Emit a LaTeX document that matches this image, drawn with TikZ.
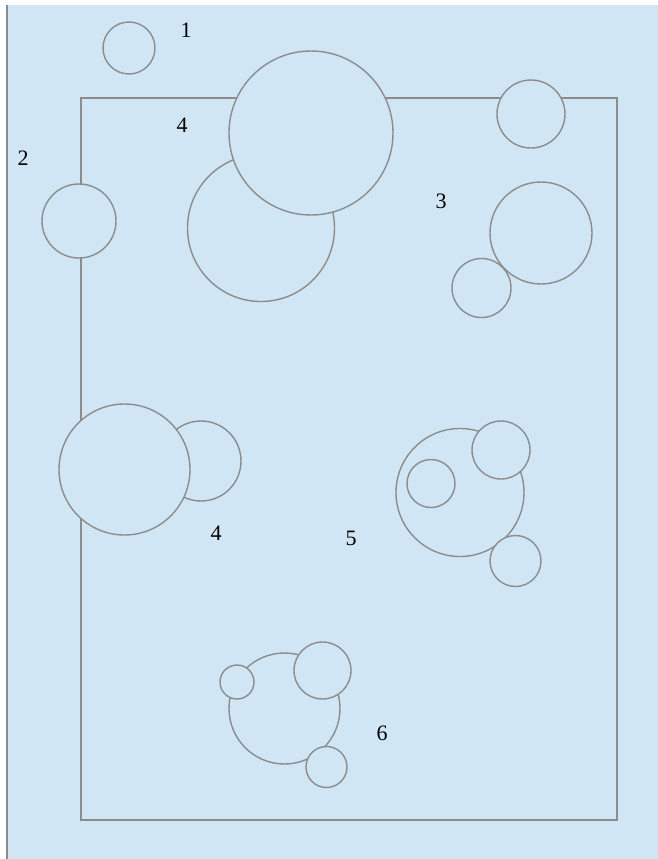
\documentclass[tikz,border=0pt]{standalone}
\usepackage{fontspec}
\setmainfont{Liberation Serif}
\definecolor{bgblue}{RGB}{209,230,244}
\definecolor{edge}{RGB}{140,140,140}
\tikzset{
  circ/.style={circle, draw=edge, fill=bgblue, line width=1.4pt, inner sep=0pt, minimum size=#1},
  lbl/.style={font=\fontsize{22}{24}\selectfont, text=black, inner sep=0pt}
}
\begin{document}
\begin{tikzpicture}[x=1pt,y=-1pt]
\useasboundingbox (0,0) rectangle (658,859);
\fill[white] (0,0) rectangle (658,859);
\fill[bgblue] (7,5) rectangle (658,859);
\draw[edge, line width=1.6pt] (7,5) -- (7,859);
% frame
\draw[edge, line width=1.4pt] (81,98) rectangle (617,820);
% circles
\node[circ=52pt] (c1) at (129,48) {};
\node[circ=74pt] (c2) at (79,221) {};
\node[circ=147pt] (c3b) at (261,228) {};
\node[circ=164pt] (c3a) at (311,133) {};
\node[circ=68pt] (c4) at (531,114) {};
\node[circ=59pt] (c5b) at (481.5,288) {};
\node[circ=102pt] (c5a) at (541,233) {};
\node[circ=80pt] (c6b) at (201,461) {};
\node[circ=131pt] (c6a) at (124.5,469.5) {};
\node[circ=128pt] (c7) at (460,492.5) {};
\node[circ=48pt] (c7a) at (431,483.5) {};
\node[circ=58pt] (c7b) at (501,450) {};
\node[circ=51pt] (c7c) at (515.5,561) {};
\node[circ=111pt] (c8) at (284.5,708.5) {};
\node[circ=34pt] (c8a) at (237,682) {};
\node[circ=57pt] (c8b) at (322.5,670.5) {};
\node[circ=41pt] (c8c) at (326.5,767) {};
% labels
\node[lbl] (l1) at (186,30) {1};
\node[lbl] (l4a) at (182,125) {4};
\node[lbl] (l2) at (23,158) {2};
\node[lbl] (l3) at (441,201) {3};
\node[lbl] (l4b) at (216,533) {4};
\node[lbl] (l5) at (351,538) {5};
\node[lbl] (l6) at (382,733) {6};
\end{tikzpicture}
\end{document}
